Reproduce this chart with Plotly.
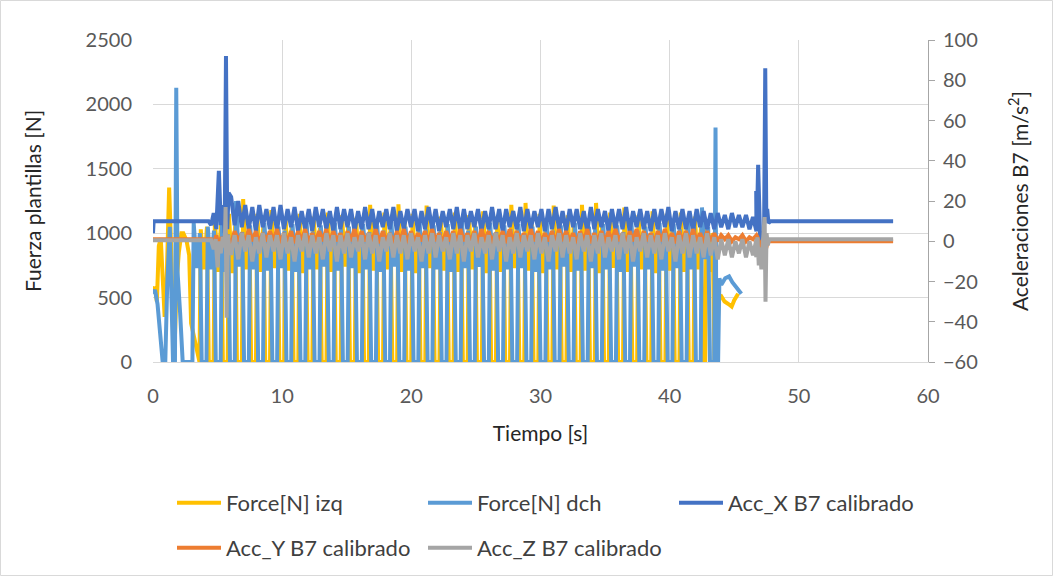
import plotly.graph_objects as go

# ---------------- data ----------------
# Force[N] izq : free part before/after walking
izq_pre_t = [0.0, 0.15, 0.3, 0.45, 0.6, 0.75, 0.9, 1.05, 1.25, 1.4, 1.57, 1.7, 1.85, 2.0, 2.2, 2.35, 2.6, 2.8, 2.95, 3.6]
izq_pre_f = [560, 580, 470, 900, 960, 700, 350, 600, 1355, 900, 150, 200, 650, 850, 1000, 1000, 940, 830, 300, 0]
izq_post_t = [43.45, 43.65, 43.72, 43.78, 44.0, 44.25, 44.55, 44.8, 45.0, 45.15, 45.3]
izq_post_f = [0, 0, 250, 500, 510, 470, 450, 430, 480, 510, 530]
# walking strides (heel-strike time, first peak, mid valley, second peak)
izq_hs = [3.60, 4.69, 5.78, 6.88, 7.97, 9.06, 10.16, 11.25, 12.34, 13.43, 14.53, 15.62, 16.71,
          17.81, 18.90, 19.99, 21.08, 22.18, 23.27, 24.36, 25.46, 26.55, 27.64, 28.74, 29.83,
          30.92, 32.01, 33.11, 34.20, 35.29, 36.39, 37.48, 38.57, 39.67, 40.76, 41.85, 42.75]
izq_p1 = [1030, 1100, 1150, 1265, 1150, 1180, 1120, 1150, 1130, 1160, 1140, 1120, 1220,
          1160, 1225, 1150, 1215, 1130, 1160, 1140, 1170, 1130, 1220, 1235, 1150,
          1215, 1140, 1220, 1235, 1160, 1200, 1140, 1170, 1150, 1160, 1130, 1100]
izq_v = [720, 700, 690, 720, 700, 730, 710, 690, 720, 700, 740, 690, 710, 720, 700, 690, 730, 710,
         700, 720, 690, 700, 730, 710, 690, 720, 700, 710, 690, 730, 700, 720, 690, 710, 700, 720, 700]
izq_p2 = [1050, 1080, 1060, 1040, 1070, 1050, 1060, 1080, 1040, 1060, 1050, 1070, 1060, 1040, 1080,
          1050, 1060, 1070, 1040, 1060, 1080, 1050, 1040, 1070, 1060, 1050, 1080, 1040, 1060, 1070,
          1050, 1060, 1040, 1080, 1060, 1050, 1000]

# Force[N] dch
dch_pre_t = [0.0, 0.15, 0.35, 0.55, 0.75, 0.95, 1.1, 1.3, 1.45, 1.55, 1.7, 1.8, 1.9, 2.0, 2.1, 2.3, 3.05]
dch_pre_f = [530, 560, 450, 200, 0, 0, 600, 1050, 500, 0, 0, 2130, 700, 480, 380, 0, 0]
dch_post_t = [43.45, 43.55, 43.62, 43.75, 43.85, 44.0, 44.3, 44.6, 44.85, 45.1, 45.3, 45.55]
dch_post_f = [0, 1820, 0, 0, 650, 600, 650, 665, 620, 590, 560, 530]
dch_hs = [3.05, 4.14, 5.24, 6.33, 7.42, 8.52, 9.61, 10.70, 11.79, 12.89, 13.98, 15.07, 16.17,
          17.26, 18.35, 19.45, 20.54, 21.63, 22.72, 23.82, 24.91, 26.00, 27.10, 28.19, 29.28,
          30.38, 31.47, 32.56, 33.65, 34.75, 35.84, 36.93, 38.03, 39.12, 40.21, 41.31, 42.40]
dch_p1 = [1080, 1050, 1070, 1250, 1060, 1080, 1050, 1070, 1090, 1060, 1080, 1050, 1070, 1060, 1090,
          1050, 1080, 1060, 1070, 1090, 1050, 1080, 1060, 1070, 1050, 1090, 1060, 1080, 1050, 1070,
          1060, 1090, 1050, 1080, 1070, 1100, 1200]
dch_v = [730, 720, 700, 740, 720, 710, 730, 700, 720, 740, 710, 730, 720, 700, 740, 710, 730, 720,
         700, 730, 740, 710, 720, 730, 700, 720, 740, 710, 730, 720, 700, 740, 720, 710, 730, 720, 800]
dch_p2 = [1000, 1020, 990, 1010, 1030, 1000, 1020, 990, 1010, 1000, 1030, 990, 1010, 1020, 1000,
          990, 1030, 1010, 1000, 1020, 990, 1010, 1030, 1000, 990, 1020, 1010, 1000, 1030, 990,
          1010, 1020, 1000, 990, 1030, 1050, 1050]

# Accelerations: before walking / after walking
accx_pre_t = [0.0, 0.05, 4.3, 4.5, 4.7, 4.9, 5.1, 5.25, 5.4, 5.55, 5.65, 5.75, 5.85]
accx_pre_v = [4, 10, 10, 8, 14, 6, 35, 8, 18, 4, 92, 6, 24]
accx_post_t = [46.7, 46.75, 46.85, 46.92, 47.05, 47.15, 47.3, 47.4, 47.48, 47.55, 47.65, 47.8, 57.3]
accx_post_v = [25, 8, 38, 12, -10, 5, -3, 86, 12, 16, 9, 10, 10]
accy_pre_t = [0.0, 4.5, 4.7, 4.9, 5.1, 5.3, 5.5, 5.65, 5.75, 5.9]
accy_pre_v = [1, 1, -2, 3, -3, 2, -1, 4, -3, 1]
accy_post_t = [46.8, 47.0, 47.3, 47.45, 47.6, 57.3]
accy_post_v = [2, -3, 2, -4, 0, 0]
accz_pre_t = [0.0, 4.5, 4.7, 4.85, 5.0, 5.1, 5.25, 5.4, 5.55, 5.62, 5.7, 5.8, 5.95]
accz_pre_v = [0.5, 0.5, -4, 1, -13, 0, -6, 2, -3, 17, -38, 3, -6]
accz_post_t = [46.7, 46.8, 46.9, 47.0, 47.1, 47.2, 47.35, 47.42, 47.5, 47.6, 47.7, 57.3]
accz_post_v = [-8, 2, -12, -3, -14, -2, 12, -30, 4, -2, 1, 1]

# Accelerations while walking: step times and value at each step / half step
acc_step_t = [6.05, 6.60, 7.14, 7.69, 8.23, 8.78, 9.33, 9.87, 10.42, 10.96, 11.51, 12.06, 12.60,
              13.15, 13.69, 14.24, 14.79, 15.33, 15.88, 16.42, 16.97, 17.52, 18.06, 18.61, 19.15,
              19.70, 20.25, 20.79, 21.34, 21.88, 22.43, 22.98, 23.52, 24.07, 24.61, 25.16, 25.71,
              26.25, 26.80, 27.34, 27.89, 28.44, 28.98, 29.53, 30.07, 30.62, 31.17, 31.71, 32.26,
              32.80, 33.35, 33.90, 34.44, 34.99, 35.53, 36.08, 36.63, 37.17, 37.72, 38.26, 38.81,
              39.36, 39.90, 40.45, 40.99, 41.54, 42.09, 42.63, 43.18, 43.72, 44.27, 44.82, 45.36,
              45.91, 46.45]
accx_step = [22, 20, 18, 17, 18, 16, 17, 18, 16, 17, 15, 16, 17, 16, 15, 17, 16, 16, 15, 17,
             16, 15, 16, 17, 15, 16, 16, 15, 17, 16, 15, 16, 17, 16, 15, 16, 15, 17, 16, 16,
             15, 17, 16, 15, 16, 16, 17, 15, 16, 16, 15, 17, 16, 15, 16, 16, 17, 15, 16, 15,
             16, 16, 17, 15, 16, 15, 16, 15, 14, 14, 13, 14, 13, 13, 12]
accx_half = [8, 7, 6, 5, 7, 6, 5, 6, 7, 5, 6, 5, 7, 6, 5, 6, 7, 5, 6, 6,
             5, 7, 6, 5, 6, 7, 5, 6, 6, 5, 7, 6, 5, 6, 7, 5, 6, 6, 5, 7,
             6, 5, 6, 7, 5, 6, 6, 5, 7, 6, 5, 6, 7, 5, 6, 6, 5, 7, 6, 5,
             6, 7, 5, 6, 6, 5, 7, 6, 6, 7, 6, 7, 7, 6, 5]
accy_step = [-1, 0, -1, 0, -1, 0, 0, -1, 0, -1, 0, -1, 0, 0, -1, 0, -1, 0, -1, 0,
             0, -1, 0, -1, 0, -1, 0, 0, -1, 0, -1, 0, -1, 0, 0, -1, 0, -1, 0, -1,
             0, 0, -1, 0, -1, 0, -1, 0, 0, -1, 0, -1, 0, -1, 0, 0, -1, 0, -1, 0,
             -1, 0, 0, -1, 0, -1, 0, -1, 0, 0, 1, 0, 1, 0, 1]
accy_half = [5, 4, 6, 5, 4, 5, 6, 4, 5, 5, 6, 4, 5, 6, 5, 4, 5, 6, 5, 4,
             6, 5, 4, 5, 6, 5, 4, 5, 6, 4, 5, 5, 6, 4, 5, 6, 5, 4, 5, 6,
             5, 4, 6, 5, 4, 5, 6, 5, 4, 5, 6, 4, 5, 5, 6, 4, 5, 6, 5, 4,
             5, 6, 4, 5, 5, 6, 4, 5, 4, 3, 3, 2, 3, 2, 3]
accz_step = [-6, -9, -5, -10, -6, -8, -5, -9, -6, -10, -5, -8, -6, -9, -5, -10, -6, -8, -5, -9,
             -6, -10, -5, -8, -6, -9, -5, -10, -6, -8, -5, -9, -6, -10, -5, -8, -6, -9, -5, -10,
             -6, -8, -5, -9, -6, -10, -5, -8, -6, -9, -5, -10, -6, -8, -5, -9, -6, -10, -5, -8,
             -6, -9, -5, -10, -6, -8, -6, -8, -7, -9, -7, -8, -6, -8, -7]
accz_half = [3, 4, 3, 2, 4, 3, 3, 4, 2, 3, 4, 3, 2, 4, 3, 3, 4, 2, 3, 4,
             3, 2, 4, 3, 3, 4, 2, 3, 4, 3, 2, 4, 3, 3, 4, 2, 3, 4, 3, 2,
             4, 3, 3, 4, 2, 3, 4, 3, 2, 4, 3, 3, 4, 2, 3, 4, 3, 2, 4, 3,
             3, 4, 2, 3, 4, 3, 2, 4, 2, 1, 1, 0, 1, 0, 1]

x_ticks = [0, 10, 20, 30, 40, 50, 60]

# ---------------- build the traces ----------------
def force_series(pre_t, pre_f, hs, p1, v, p2, post_t, post_f):
    t, f = list(pre_t), list(pre_f)
    for h, a, b, c in zip(hs, p1, v, p2):
        t += [h, h + 0.10, h + 0.34, h + 0.58, h + 0.72]
        f += [0, a, b, c, 0]
    return t + list(post_t), f + list(post_f)


def acc_series(pre_t, pre_v, step_v, half_v, post_t, post_v):
    t, v = list(pre_t), list(pre_v)
    for st, a, b in zip(acc_step_t, step_v, half_v):
        t += [st, st + 0.27]
        v += [a, b]
    return t + list(post_t), v + list(post_v)


izq_t, izq_f = force_series(izq_pre_t, izq_pre_f, izq_hs, izq_p1, izq_v, izq_p2, izq_post_t, izq_post_f)
dch_t, dch_f = force_series(dch_pre_t, dch_pre_f, dch_hs, dch_p1, dch_v, dch_p2, dch_post_t, dch_post_f)
ax_t, ax_v = acc_series(accx_pre_t, accx_pre_v, accx_step, accx_half, accx_post_t, accx_post_v)
ay_t, ay_v = acc_series(accy_pre_t, accy_pre_v, accy_step, accy_half, accy_post_t, accy_post_v)
az_t, az_v = acc_series(accz_pre_t, accz_pre_v, accz_step, accz_half, accz_post_t, accz_post_v)

FONT = "Lato"
LW = 4
W, H = 1053, 576
fig = go.Figure()
fig.add_trace(go.Scatter(x=izq_t, y=izq_f, mode="lines", name="Force[N] izq", showlegend=True,
                         line=dict(color="#FFC000", width=LW), legend="legend"))
fig.add_trace(go.Scatter(x=dch_t, y=dch_f, mode="lines", name="Force[N] dch", showlegend=True,
                         line=dict(color="#5B9BD5", width=LW), legend="legend2"))
fig.add_trace(go.Scatter(x=ax_t, y=ax_v, mode="lines", name="Acc_X B7 calibrado", yaxis="y2",
                         showlegend=True, line=dict(color="#4472C4", width=LW), legend="legend3"))
fig.add_trace(go.Scatter(x=ay_t, y=ay_v, mode="lines", name="Acc_Y B7 calibrado", yaxis="y2",
                         showlegend=True, line=dict(color="#ED7D31", width=LW), legend="legend4"))
fig.add_trace(go.Scatter(x=az_t, y=az_v, mode="lines", name="Acc_Z B7 calibrado", yaxis="y2",
                         showlegend=True, line=dict(color="#A5A5A5", width=LW), legend="legend5"))

tickfont = dict(family=FONT, size=20, color="#595959")
titlefont = dict(family=FONT, size=21, color="#262626")
legfont = dict(family=FONT, size=22, color="#404040")


def leg(px, py):
    return dict(orientation="h", xref="container", yref="container", visible=True,
                x=px / W, xanchor="left", y=1 - py / H, yanchor="middle",
                font=legfont, itemwidth=44, bgcolor="rgba(0,0,0,0)", borderwidth=0)


fig.update_layout(
    width=W, height=H, showlegend=True,
    margin=dict(l=153, r=125, t=40, b=214, autoexpand=False),
    paper_bgcolor="white", plot_bgcolor="white",
    xaxis=dict(range=[0, 60], tickvals=x_ticks, showgrid=True, gridcolor="#D9D9D9", gridwidth=1,
               zeroline=False, showline=True, linecolor="#D9D9D9", ticks="", automargin=False,
               tickfont=tickfont, ticklabelstandoff=16,
               title=dict(text="Tiempo [s]", font=titlefont, standoff=20)),
    yaxis=dict(range=[0, 2500], dtick=500, showgrid=True, gridcolor="#D9D9D9", gridwidth=1,
               zeroline=False, showline=False, ticks="", tickfont=tickfont, ticklabelstandoff=20,
               automargin=False,
               title=dict(text="Fuerza plantillas [N]", font=titlefont, standoff=38)),
    yaxis2=dict(range=[-60, 100], dtick=20, overlaying="y", side="right", showgrid=False,
                zeroline=False, showline=True, linecolor="#A6A6A6", linewidth=1,
                ticks="outside", ticklen=6, tickcolor="#A6A6A6", tickfont=tickfont,
                ticklabelstandoff=4, automargin=False,
                title=dict(text="Aceleraciones B7 [m/s<sup>2</sup>]", font=titlefont, standoff=36)),
    legend=leg(172, 503),
    legend2=leg(423, 503),
    legend3=leg(674, 503),
    legend4=leg(172, 548),
    legend5=leg(423, 548),
    shapes=[dict(type="rect", xref="paper", yref="paper",
                 x0=-152.5 / 775, x1=899.5 / 775, y0=-213.5 / 322, y1=1 + 39.5 / 322,
                 line=dict(color="#D9D9D9", width=1), fillcolor="rgba(0,0,0,0)", layer="below")],
)

fig.write_html("out.html")
